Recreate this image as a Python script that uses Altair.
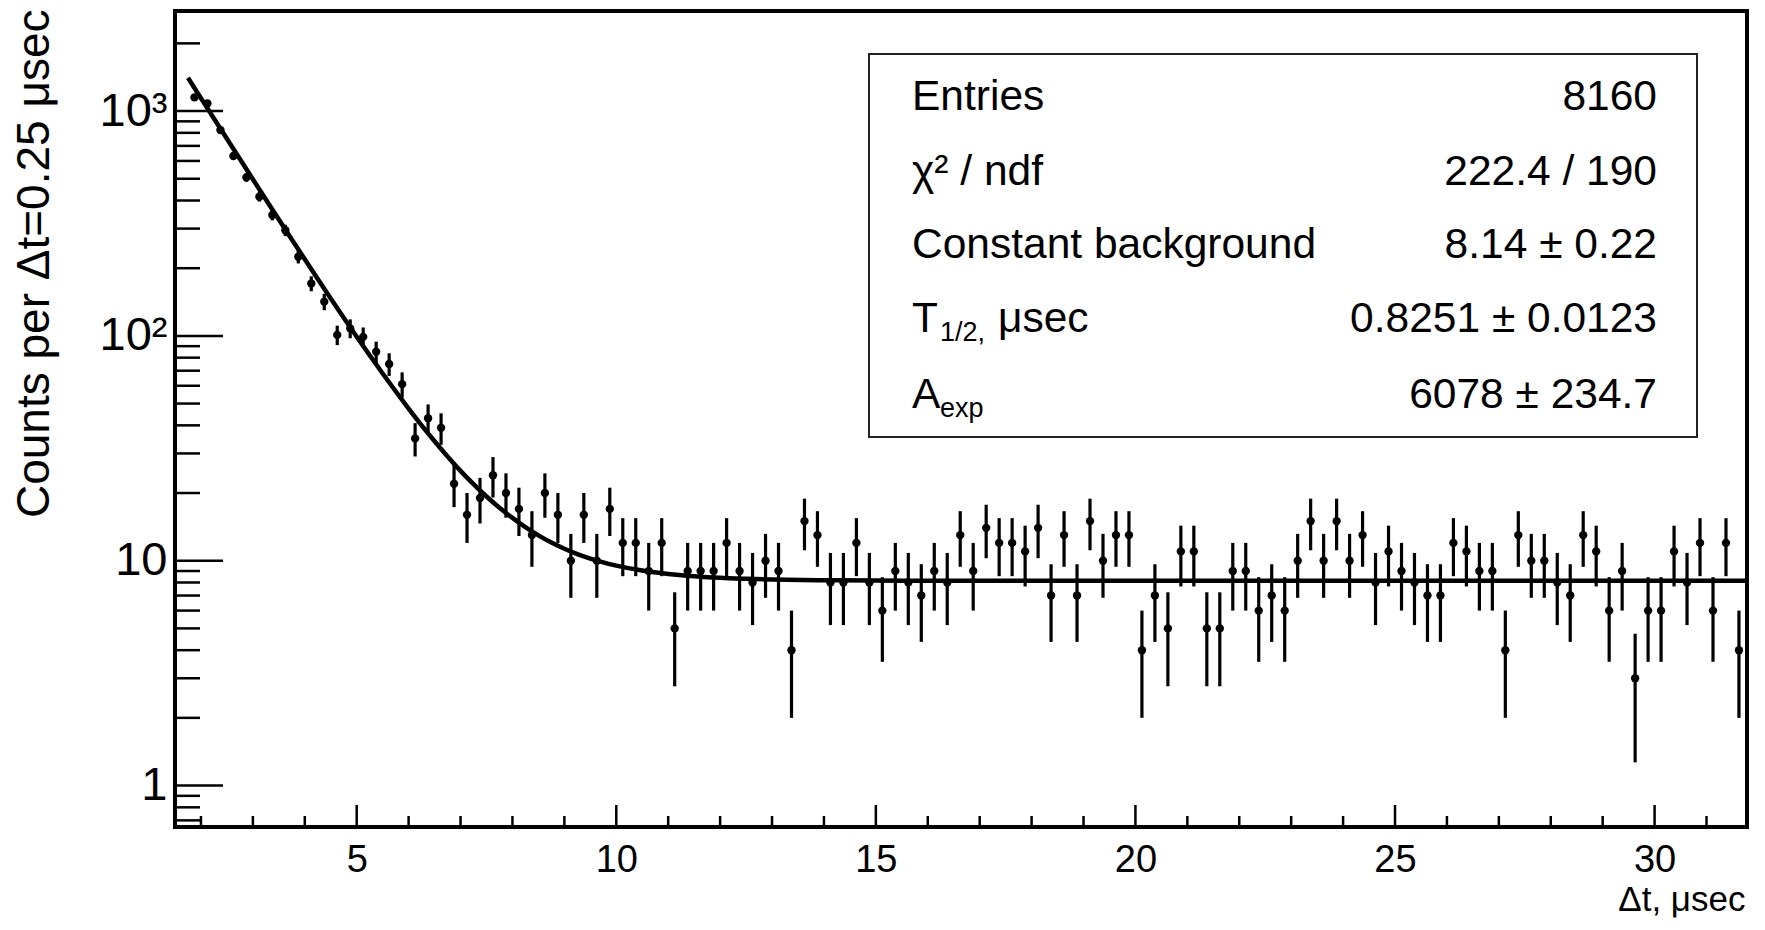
import altair as alt
import pandas as pd
import numpy as np

FONT = "Liberation Sans"

# ---- histogram (0.25 usec bins, first bin starts at 1.75 usec) ----
bin_lo = 1.75
bin_width = 0.25
counts = [
    1150, 1082, 823, 631, 507, 416, 345, 295, 225, 171,
    142, 101, 108, 99, 85, 75, 61, 35, 43, 39,
    22, 16, 19, 24, 20, 17, 13, 20, 16, 10,
    16, 10, 17, 12, 12, 9, 12, 5, 9, 9,
    9, 12, 9, 8, 10, 9, 4, 15, 13, 8,
    8, 12, 8, 6, 9, 8, 7, 9, 8, 13,
    9, 14, 12, 12, 11, 14, 7, 13, 7, 15,
    10, 13, 13, 4, 7, 5, 11, 11, 5, 5,
    9, 9, 6, 7, 6, 10, 15, 10, 15, 10,
    13, 8, 11, 9, 8, 7, 7, 12, 11, 9,
    9, 4, 13, 10, 10, 8, 7, 13, 11, 6,
    9, 3, 6, 6, 11, 8, 12, 6, 12, 4,
]

# ---- fitted curve (as drawn) ----
fit_t = [1.75, 2.0, 2.25, 2.5, 2.75, 3.0, 3.25, 3.5, 3.75, 4.0, 4.25, 4.5, 4.75,
         5.0, 5.25, 5.5, 5.75, 6.0, 6.25, 6.5, 6.75, 7.0, 7.25, 7.5, 7.75, 8.0,
         8.25, 8.5, 8.75, 9.0, 9.25, 9.5, 9.75, 10.0, 10.5, 11.0, 11.5, 12.0,
         12.5, 13.0, 14.0, 15.0, 17.0, 20.0, 25.0, 31.78]
fit_v = [1405.6, 1140.9, 926.2, 752.3, 611.4, 497.1, 404.5, 329.4, 268.5, 219.2,
         179.2, 146.8, 120.5, 99.2, 82.0, 68.0, 56.7, 47.5, 40.0, 34.0, 29.1,
         25.1, 21.9, 19.3, 17.2, 15.5, 14.1, 12.96, 12.04, 11.30, 10.70, 10.22,
         9.83, 9.51, 9.04, 8.73, 8.53, 8.39, 8.31, 8.25, 8.19, 8.16, 8.14, 8.14,
         8.14, 8.14]

# ---- axis ticks ----
y_major = [1, 10, 100, 1000]
y_minor = [0.7, 0.8, 0.9, 2, 3, 4, 5, 6, 7, 8, 9, 20, 30, 40, 50, 60, 70, 80, 90,
           200, 300, 400, 500, 600, 700, 800, 900, 2000]
x_major = [5, 10, 15, 20, 25, 30]
x_minor = [2, 3, 4, 6, 7, 8, 9, 11, 12, 13, 14, 16, 17, 18, 19, 21, 22, 23, 24,
           26, 27, 28, 29, 31]

# ---- statistics box ----
stat_names = ["Entries", "χ² / ndf", "Constant background", "T", "A"]
stat_subs = ["", "", "", "1/2,", "exp"]
stat_tails = ["", "", "", "μsec", ""]
stat_values = ["8160", "222.4 / 190", "8.14 ± 0.22", "0.8251 ± 0.0123", "6078 ± 234.7"]

W, H = 1572, 816
xs = alt.Scale(domain=[1.5, 31.78], nice=False, zero=False)
ys = alt.Scale(type="log", domain=[0.654, 2786], nice=False)

n = np.array(counts, dtype=float)
centers = bin_lo + bin_width * (np.arange(len(counts)) + 0.5)
err = np.sqrt(n)
df = pd.DataFrame({"t": centers, "n": n, "lo": n - err, "hi": n + err})
fit_df = pd.DataFrame({"t": fit_t, "v": fit_v})

x_axis = alt.Axis(
    values=x_major, title="Δt, μsec", format="d",
    labelFont=FONT, labelFontSize=38, labelColor="black", labelPadding=14,
    ticks=False, tickSize=0, domain=False, grid=False,
    titleFont=FONT, titleFontSize=35, titleFontWeight="normal", titleColor="black",
    titleAnchor="end", titleAlign="right", titleBaseline="middle",
    titleX=W - 2, titleY=72,
)
y_axis = alt.Axis(
    values=y_major,
    labelExpr="datum.value >= 1000 ? '10³' : datum.value >= 100 ? '10²' : datum.value >= 10 ? '10' : '1'",
    labelFont=FONT, labelFontSize=47, labelColor="black", labelPadding=8,
    ticks=False, tickSize=0, domain=False, grid=False,
    title="Counts per Δt=0.25 μsec",
    titleFont=FONT, titleFontSize=46, titleFontWeight="normal", titleColor="black",
    titleAngle=270, titleAnchor="end", titleAlign="right", titleBaseline="middle",
    titleX=-141, titleY=-2,
)

bars = alt.Chart(df).mark_rule(color="black", strokeWidth=3.2, clip=True).encode(
    x=alt.X("t:Q", scale=xs, axis=x_axis),
    y=alt.Y("lo:Q", scale=ys, axis=y_axis),
    y2="hi:Q",
)
pts = alt.Chart(df).mark_circle(color="black", size=70, opacity=1, clip=True).encode(
    x=alt.X("t:Q", scale=xs, axis=x_axis),
    y=alt.Y("n:Q", scale=ys, axis=y_axis),
)
fit = alt.Chart(fit_df).mark_line(color="black", strokeWidth=4.5, clip=True,
                                  interpolate="monotone").encode(
    x=alt.X("t:Q", scale=xs, axis=x_axis),
    y=alt.Y("v:Q", scale=ys, axis=y_axis),
)

ytm = alt.Chart(pd.DataFrame({"v": y_major})).mark_rule(color="black", strokeWidth=2.5).encode(
    y=alt.Y("v:Q", scale=ys, axis=y_axis), x=alt.value(0), x2=alt.value(48))
ytn = alt.Chart(pd.DataFrame({"v": y_minor})).mark_rule(color="black", strokeWidth=2.5).encode(
    y=alt.Y("v:Q", scale=ys, axis=y_axis), x=alt.value(0), x2=alt.value(25))
xtm = alt.Chart(pd.DataFrame({"t": x_major})).mark_rule(color="black", strokeWidth=2.5).encode(
    x=alt.X("t:Q", scale=xs, axis=x_axis), y=alt.value(H), y2=alt.value(H - 22))
xtn = alt.Chart(pd.DataFrame({"t": x_minor})).mark_rule(color="black", strokeWidth=2.5).encode(
    x=alt.X("t:Q", scale=xs, axis=x_axis), y=alt.value(H), y2=alt.value(H - 11))

one = pd.DataFrame({"k": [0]})
box = alt.Chart(one).mark_rect(fill="white", stroke="#222222", strokeWidth=2).encode(
    x=alt.value(694), x2=alt.value(1522), y=alt.value(43), y2=alt.value(426))

layers = [fit, bars, pts, ytm, ytn, xtm, xtn, box]

row_y = [86, 161, 234, 308, 384]
LX, RX = 737, 1482
FS = 42.5
for i in range(len(stat_names)):
    layers.append(alt.Chart(one).mark_text(
        font=FONT, fontSize=FS, color="black", align="left", baseline="middle",
        text=stat_names[i]).encode(x=alt.value(LX), y=alt.value(row_y[i])))
    layers.append(alt.Chart(one).mark_text(
        font=FONT, fontSize=FS, color="black", align="right", baseline="middle",
        text=stat_values[i]).encode(x=alt.value(RX), y=alt.value(row_y[i])))
    if stat_subs[i]:
        layers.append(alt.Chart(one).mark_text(
            font=FONT, fontSize=27, color="black", align="left", baseline="middle",
            text=stat_subs[i]).encode(x=alt.value(LX + 28), y=alt.value(row_y[i] + 14)))
    if stat_tails[i]:
        layers.append(alt.Chart(one).mark_text(
            font=FONT, fontSize=FS, color="black", align="left", baseline="middle",
            text=stat_tails[i]).encode(x=alt.value(LX + 86), y=alt.value(row_y[i])))

chart = alt.layer(*layers).properties(
    width=W, height=H,
    autosize=alt.AutoSizeParams(type="none"),
    padding={"left": 167, "top": 3, "right": 8, "bottom": 94},
    background="white",
).configure_view(stroke="black", strokeWidth=4)

chart.save("out.html", embed_options={"renderer": "svg", "actions": False})
